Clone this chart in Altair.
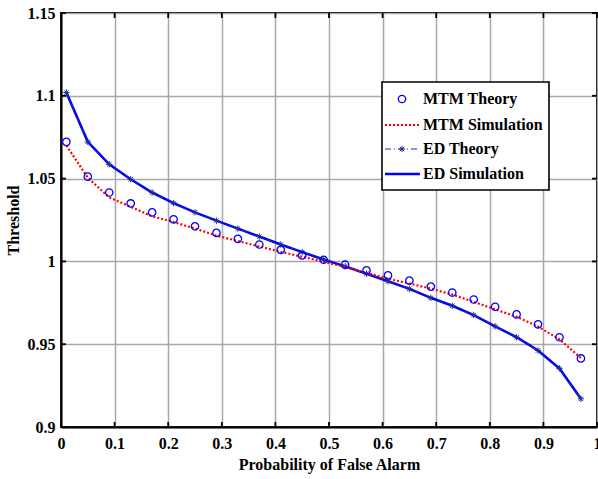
import altair as alt
import pandas as pd

# ---- data ----
pfa = [0.01, 0.05, 0.09, 0.13, 0.17, 0.21, 0.25, 0.29, 0.33, 0.37, 0.41, 0.45, 0.49,
       0.53, 0.57, 0.61, 0.65, 0.69, 0.73, 0.77, 0.81, 0.85, 0.89, 0.93, 0.97]
mtm_theory = [1.0722, 1.0512, 1.0416, 1.0350, 1.0296, 1.0254, 1.0212, 1.0172, 1.0136, 1.0102,
              1.0070, 1.0036, 1.0010, 0.9980, 0.9946, 0.9916, 0.9884, 0.9848, 0.9812, 0.9770,
              0.9726, 0.9680, 0.9620, 0.9542, 0.9414]
mtm_sim = [1.0700, 1.0505, 1.0386, 1.0330, 1.0272, 1.0238, 1.0198, 1.0156, 1.0123, 1.0090,
           1.0058, 1.0028, 0.9998, 0.9966, 0.9930, 0.9896, 0.9866, 0.9836, 0.9800, 0.9756,
           0.9710, 0.9666, 0.9606, 0.9530, 0.9416]
ed_theory = [1.1020, 1.0722, 1.0586, 1.0496, 1.0416, 1.0352, 1.0296, 1.0246, 1.0198, 1.0150,
             1.0102, 1.0056, 1.0012, 0.9970, 0.9926, 0.9880, 0.9834, 0.9780, 0.9732, 0.9676,
             0.9608, 0.9542, 0.9462, 0.9354, 0.9170]
ed_sim = list(ed_theory)

x_ticks = [0, 0.1, 0.2, 0.3, 0.4, 0.5, 0.6, 0.7, 0.8, 0.9, 1.0]
y_ticks = [0.9, 0.95, 1.0, 1.05, 1.1, 1.15]

legend_labels = ["MTM Theory", "MTM Simulation", "ED Theory", "ED Simulation"]

W, H = 536, 414
FONT = "Liberation Serif"
BLUE = "#0000ff"
NAVY = "#1f2f8f"
RED = "#ff0000"
STAR = "M0,-1L0,1M-1,0L1,0M-0.7,-0.7L0.7,0.7M-0.7,0.7L0.7,-0.7"

df = pd.DataFrame({"pfa": pfa, "mtm_theory": mtm_theory, "mtm_sim": mtm_sim,
                   "ed_theory": ed_theory, "ed_sim": ed_sim})

xs = alt.Scale(domain=[0, 1], nice=False, zero=False)
ys = alt.Scale(domain=[0.9, 1.15], nice=False, zero=False)

X = alt.X("pfa:Q", scale=xs, axis=alt.Axis(
    values=x_ticks, format="~g", title="Probability of False Alarm",
    grid=True, tickSize=0, labelPadding=8, titlePadding=5))

base = alt.Chart(df)

ed_sim_line = base.mark_line(color=BLUE, strokeWidth=2.6).encode(
    x=X,
    y=alt.Y("ed_sim:Q", scale=ys, axis=alt.Axis(
        values=y_ticks, format="~g", title="Threshold", grid=True,
        tickSize=0, labelPadding=6, titlePadding=6)))
ed_theory_line = base.mark_line(color=NAVY, strokeWidth=1, strokeDash=[6, 3, 1, 3]).encode(
    x="pfa:Q", y="ed_theory:Q")
ed_theory_pts = base.mark_point(shape=STAR, filled=False, color=NAVY, size=40, strokeWidth=1,
                                opacity=1).encode(x="pfa:Q", y="ed_theory:Q")
mtm_sim_line = base.mark_line(color=RED, strokeWidth=2.2, strokeDash=[2, 2]).encode(
    x="pfa:Q", y="mtm_sim:Q")
mtm_theory_pts = base.mark_point(shape="circle", filled=False, color=BLUE, size=55,
                                 strokeWidth=1.3, opacity=1).encode(x="pfa:Q", y="mtm_theory:Q")

# inward tick marks on all four sides
xt = alt.Chart(pd.DataFrame({"v": x_ticks}))
yt = alt.Chart(pd.DataFrame({"v": y_ticks}))
tick_style = dict(color="black", strokeWidth=1.8)
ticks = [
    xt.mark_rule(**tick_style).encode(x=alt.X("v:Q", scale=xs), y=alt.value(H), y2=alt.value(H - 5)),
    xt.mark_rule(**tick_style).encode(x=alt.X("v:Q", scale=xs), y=alt.value(0), y2=alt.value(5)),
    yt.mark_rule(**tick_style).encode(y=alt.Y("v:Q", scale=ys), x=alt.value(0), x2=alt.value(5)),
    yt.mark_rule(**tick_style).encode(y=alt.Y("v:Q", scale=ys), x=alt.value(W), x2=alt.value(W - 5)),
]

# legend (drawn manually)
LX0, LX1, LY0, LY1 = 321, 488, 69, 177
leg_y = [86, 112, 136, 161]
legdf = pd.DataFrame({"label": legend_labels, "ly": leg_y})
leg_box = alt.Chart(pd.DataFrame({"a": [0]})).mark_rect(
    fill="white", stroke="black", strokeWidth=1.6).encode(
    x=alt.value(LX0), x2=alt.value(LX1), y=alt.value(LY0), y2=alt.value(LY1))
leg_text = alt.Chart(legdf).mark_text(
    align="left", baseline="middle", font=FONT, fontWeight="bold", fontSize=16, color="black"
).encode(x=alt.value(362), y=alt.Y("ly:Q", scale=None), text="label:N")

def leg_row(i):
    return alt.Chart(pd.DataFrame({"ly": [leg_y[i]]}))

leg_circle = leg_row(0).mark_point(shape="circle", filled=False, color=BLUE, size=55,
                                   strokeWidth=1.3, opacity=1).encode(
    x=alt.value(341), y=alt.Y("ly:Q", scale=None))
leg_red = leg_row(1).mark_rule(color=RED, strokeWidth=2.2, strokeDash=[2, 2]).encode(
    x=alt.value(324), x2=alt.value(359), y=alt.Y("ly:Q", scale=None))
leg_edt = leg_row(2).mark_rule(color=NAVY, strokeWidth=1, strokeDash=[6, 3, 1, 3]).encode(
    x=alt.value(324), x2=alt.value(359), y=alt.Y("ly:Q", scale=None))
leg_star = leg_row(2).mark_point(shape=STAR, filled=False, color=NAVY, size=40, strokeWidth=1,
                                 opacity=1).encode(x=alt.value(341), y=alt.Y("ly:Q", scale=None))
leg_eds = leg_row(3).mark_rule(color=BLUE, strokeWidth=2.6).encode(
    x=alt.value(324), x2=alt.value(359), y=alt.Y("ly:Q", scale=None))

chart = alt.layer(
    ed_sim_line, ed_theory_line, ed_theory_pts, mtm_sim_line, mtm_theory_pts,
    *ticks,
    leg_box, leg_text, leg_circle, leg_red, leg_edt, leg_star, leg_eds,
).properties(
    width=W, height=H,
    background="white",
    autosize=alt.AutoSizeParams(type="none"),
    padding={"left": 61, "top": 13, "right": 1, "bottom": 52},
).configure_view(
    stroke="black", strokeWidth=2
).configure_axis(
    labelFont=FONT, labelFontWeight="bold", labelFontSize=16, labelColor="black",
    titleFont=FONT, titleFontWeight="bold", titleFontSize=16, titleColor="black",
    gridColor="#a8a8a8", gridWidth=1.5, gridOpacity=1,
    domainColor="black", domainWidth=2, labelFlush=False,
)

chart.save("out.html", embed_options={"renderer": "svg", "actions": False})
